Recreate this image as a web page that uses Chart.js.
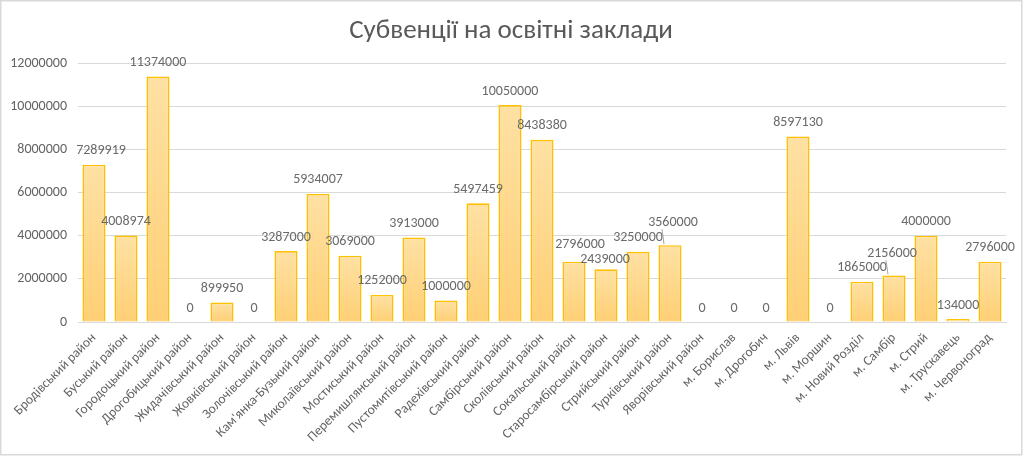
<!DOCTYPE html>
<html>
<head>
<meta charset="utf-8">
<script src="https://cdn.jsdelivr.net/npm/chart.js@4.4.1/dist/chart.umd.min.js"></script>
<style>
  html, body { margin: 0; padding: 0; background: #fff; }
  #wrap { width: 1024px; height: 457px; position: relative; }
</style>
</head>
<body>
<div id="wrap"><canvas id="c" width="1024" height="457"></canvas></div>
<script>
const chartTitle = "Субвенції на освітні заклади";

const categories = [
  "Бродівський район", "Буський район", "Городоцький район", "Дрогобицький район",
  "Жидачівський район", "Жовківський район", "Золочівський район", "Кам'янка-Бузький район",
  "Миколаївський район", "Мостиський район", "Перемишлянський район", "Пустомитівський район",
  "Радехівський район", "Самбірський район", "Сколівський район", "Сокальський район",
  "Старосамбірський район", "Стрийський район", "Турківський район", "Яворівський район",
  "м. Борислав", "м. Дрогобич", "м. Львів", "м. Моршин", "м. Новий Розділ",
  "м. Самбір", "м. Стрий", "м. Трускавець", "м. Червоноград"
];

const values = [
  7289919, 4008974, 11374000, 0, 899950, 0, 3287000, 5934007,
  3069000, 1252000, 3913000, 1000000, 5497459, 10050000, 8438380, 2796000,
  2439000, 3250000, 3560000, 0, 0, 0, 8597130, 0, 1865000,
  2156000, 4000000, 134000, 2796000
];

const yTicks = [0, 2000000, 4000000, 6000000, 8000000, 10000000, 12000000];

// label placement tweaks (style only): [dx, dy, leader]
const labelTweaks = {
  0: [7, 0, false],
  15: [6, -3, false],
  16: [-1, 4, false],
  18: [3, -9, true],
  25: [-2, -8, true]
};

const FONT = "Carlito, Lato, 'Open Sans', sans-serif";
const GRAY = '#595959';

const framePlugin = {
  id: 'frame',
  beforeDraw(chart) {
    const ctx = chart.ctx;
    ctx.save();
    ctx.fillStyle = '#ffffff';
    ctx.fillRect(0, 0, chart.width, chart.height);
    ctx.strokeStyle = '#d9d9d9';
    ctx.lineWidth = 1.5;
    ctx.strokeRect(0.75, 0.75, 1021, 454);
    ctx.fillStyle = GRAY;
    ctx.font = "27px " + FONT;
    ctx.textAlign = 'center';
    ctx.textBaseline = 'middle';
    ctx.fillText(chartTitle, 511, 31);
    ctx.restore();
  }
};

const labelPlugin = {
  id: 'barLabels',
  afterDatasetsDraw(chart) {
    const ctx = chart.ctx;
    const meta = chart.getDatasetMeta(0);
    const data = chart.data.datasets[0].data;
    ctx.save();
    ctx.font = "14px " + FONT;
    ctx.fillStyle = '#6a6a6a';
    ctx.textAlign = 'center';
    ctx.textBaseline = 'middle';
    meta.data.forEach((el, i) => {
      const t = labelTweaks[i] || [0, 0, false];
      const x = el.x + t[0];
      const y = el.y - 14 + t[1];
      ctx.fillText(String(data[i]), x, y);
      if (t[2]) {
        ctx.strokeStyle = '#a6a6a6';
        ctx.lineWidth = 1;
        ctx.beginPath();
        ctx.moveTo(el.x - 8, y + 7);
        ctx.lineTo(el.x - 6, el.y - 1);
        ctx.stroke();
      }
    });
    ctx.restore();
  }
};

function barGradient(context) {
  const chart = context.chart;
  const area = chart.chartArea;
  if (!area) return '#FFD98F';
  const y = chart.scales.y;
  const v = context.raw || 0;
  const top = y.getPixelForValue(v);
  const bottom = y.getPixelForValue(0);
  if (bottom - top < 1) return '#FFD98F';
  const g = chart.ctx.createLinearGradient(0, top, 0, bottom);
  g.addColorStop(0, '#FFE1A4');
  g.addColorStop(1, '#FFCF74');
  return g;
}

new Chart(document.getElementById('c'), {
  type: 'bar',
  data: {
    labels: categories,
    datasets: [{
      data: values,
      backgroundColor: barGradient,
      borderColor: '#FFC000',
      borderWidth: 1.6,
      barPercentage: 0.72,
      categoryPercentage: 1.0
    }]
  },
  options: {
    responsive: false,
    animation: false,
    devicePixelRatio: 1,
    layout: { padding: { top: 63, left: 0, right: 18, bottom: 0 } },
    plugins: {
      legend: { display: false },
      title: { display: false },
      tooltip: { enabled: false }
    },
    scales: {
      x: {
        grid: { display: false, drawTicks: false },
        border: { display: true, color: '#d9d9d9', width: 1 },
        ticks: {
          color: '#646464',
          font: { family: FONT, size: 13.5 },
          minRotation: 45,
          maxRotation: 45,
          autoSkip: false,
          padding: 8
        },
        afterFit(scale) { scale.height = 135; }
      },
      y: {
        min: 0,
        max: 12000000,
        afterBuildTicks(scale) { scale.ticks = yTicks.map(v => ({ value: v })); },
        grid: { color: '#d9d9d9', lineWidth: 1, drawTicks: false },
        border: { display: false },
        ticks: {
          color: '#646464',
          font: { family: FONT, size: 14 },
          padding: 11,
          callback: (v) => String(v)
        },
        afterFit(scale) { scale.width = 78; }
      }
    }
  },
  plugins: [framePlugin, labelPlugin]
});
</script>
</body>
</html>
